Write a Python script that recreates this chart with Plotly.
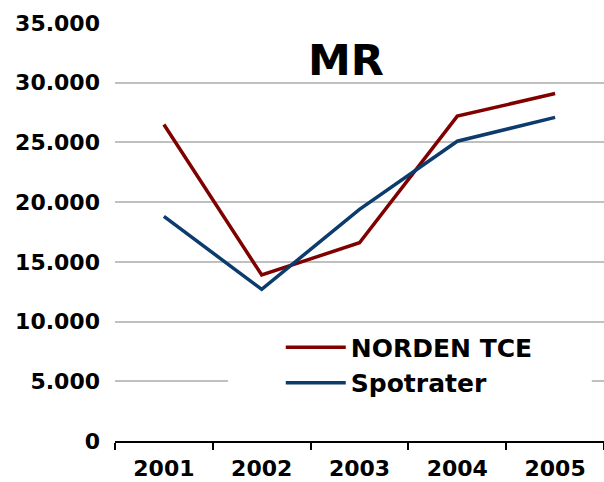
import plotly.graph_objects as go

years = ["2001", "2002", "2003", "2004", "2005"]
norden_tce = [26500, 13900, 16600, 27200, 29100]
spotrater = [18800, 12700, 19400, 25100, 27100]
y_ticks = [0, 5000, 10000, 15000, 20000, 25000, 30000, 35000]

FONT = "DejaVu Sans"

fig = go.Figure()
fig.add_trace(go.Scatter(x=years, y=norden_tce, mode="lines", name="NORDEN TCE",
                         line=dict(color="#800000", width=3.5)))
fig.add_trace(go.Scatter(x=years, y=spotrater, mode="lines", name="Spotrater",
                         line=dict(color="#0B3C6D", width=3.5)))

# white patch behind legend, hiding grid lines there
fig.add_shape(type="rect", xref="paper", yref="paper", x0=0.231, x1=0.975, y0=0.085, y1=0.262,
              fillcolor="white", line=dict(width=0), layer="above")

fig.update_layout(
    width=604, height=482,
    margin=dict(l=115, r=0, t=23, b=41),
    paper_bgcolor="white", plot_bgcolor="white",
    separators=",.",
    font=dict(family=FONT, color="black"),
    title=dict(text="<b>MR</b>", x=346/604, xanchor="center", y=1-60/482, yanchor="middle",
               font=dict(family=FONT, size=43, color="black")),
    showlegend=True,
    legend=dict(x=0.339, xanchor="left", y=0.279, yanchor="top", bgcolor="rgba(0,0,0,0)",
                font=dict(family=FONT, size=25, color="black", weight="bold"),
                itemwidth=60, tracegroupgap=0),
    xaxis=dict(type="category", range=[-0.5, 4.5], showgrid=False, showline=True,
               automargin=False,
               linecolor="black", linewidth=1.5, ticks="outside", tickson="boundaries",
               ticklen=7, tickwidth=1.5, tickcolor="black", ticklabelstandoff=7,
               tickfont=dict(family=FONT, size=22, color="black", weight="bold")),
    yaxis=dict(range=[0, 35000], tickvals=y_ticks, tickformat=",d", showgrid=True,
               automargin=False,
               gridcolor="#C0C0C0", gridwidth=1.5, zeroline=False, showline=False,
               ticklabelstandoff=14,
               tickfont=dict(family=FONT, size=22, color="black", weight="bold")),
)

fig.write_html("out.html", config={"displayModeBar": False},
               post_script="document.body.style.margin='0';document.body.style.overflow='hidden';")
